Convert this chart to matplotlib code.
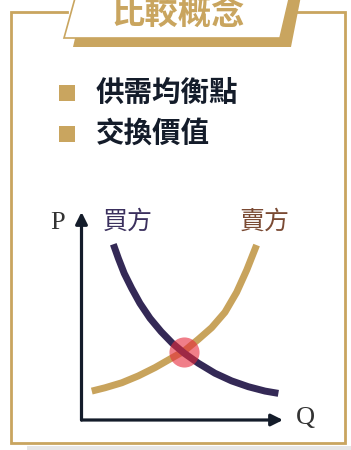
import matplotlib.pyplot as plt
from matplotlib.patches import Polygon, Rectangle

plt.rcParams['font.family'] = ['Noto Sans CJK TC', 'DejaVu Sans']

GOLD = '#c9a55f'
NAVY = '#141c2a'

title = '比較概念'
bullets = ['供需均衡點', '交換價值']
buyer_label = '買方'
seller_label = '賣方'

# demand (buyer) and supply (seller) curves, Q and P on a 0-10 scale
demand_q = [1.58, 1.83, 2.12, 2.49, 2.90, 3.40, 3.95, 4.51, 5.10, 5.80,
            6.62, 7.45, 8.28, 9.11, 9.77]
demand_p = [8.45, 7.77, 7.05, 6.33, 5.61, 4.89, 4.25, 3.69, 3.21, 2.73,
            2.25, 1.88, 1.60, 1.39, 1.28]
supply_q = [0.51, 1.17, 2.00, 2.82, 3.65, 4.39, 5.10, 5.80, 6.46, 7.12,
            7.70, 8.20, 8.69]
supply_p = [1.39, 1.55, 1.79, 2.12, 2.52, 2.93, 3.32, 3.88, 4.44, 5.18,
            6.14, 7.21, 8.41]
eq_q, eq_p = 5.10, 3.27

fig = plt.figure(figsize=(3.51, 4.5), dpi=100)

# background layer in pixel units for the card frame and heading
bg = fig.add_axes([0, 0, 1, 1])
bg.set_xlim(0, 351)
bg.set_ylim(450, 0)
bg.axis('off')

bg.add_patch(Rectangle((27, 446), 324, 4, color='#e6e6e6', lw=0))
bg.plot([67, 11, 11, 345, 345, 295], [12, 12, 443, 443, 12, 12],
        color=GOLD, lw=2, solid_joinstyle='miter')

# heading banner with offset shadow
bg.add_patch(Polygon([(86, -9), (73, 47), (291, 47), (302, -9)],
                     closed=True, color=GOLD, lw=0))
bg.add_patch(Polygon([(77, -9), (64, 38), (280, 38), (291, -9)],
                     closed=True, facecolor='white', edgecolor=GOLD, lw=1.2))
bg.text(178, 15, title, color=GOLD, fontsize=24, fontweight='bold',
        ha='center', va='center')

for i, item in enumerate(bullets):
    y = 93 + i * 41
    bg.add_patch(Rectangle((59, y - 8), 16, 16, color=GOLD, lw=0))
    bg.text(96, y, item, color=NAVY, fontsize=20.5, fontweight='bold',
            ha='left', va='center')

# supply / demand chart
ax = fig.add_axes([81.5 / 351, 30 / 450, 201.5 / 351, 208 / 450])
ax.set_xlim(0, 10)
ax.set_ylim(0, 10)
ax.axis('off')

arrow = dict(arrowstyle='-|>,head_length=0.7,head_width=0.35',
             color=NAVY, lw=2.3, shrinkA=0, shrinkB=0)
ax.annotate('', xy=(1, 0), xytext=(0, 0), xycoords='axes fraction',
            arrowprops=arrow)
ax.annotate('', xy=(0, 1), xytext=(0, 0), xycoords='axes fraction',
            arrowprops=arrow)

ax.plot(supply_q, supply_p, color='#c8a35c', lw=5, solid_capstyle='butt',
        solid_joinstyle='round')
ax.plot(demand_q, demand_p, color='#342956', lw=5, solid_capstyle='butt',
        solid_joinstyle='round')
ax.scatter([eq_q], [eq_p], s=470, color='#e6283a', alpha=0.6, lw=0, zorder=5)

bg.text(58, 223, 'P', family='Liberation Serif', fontsize=19, color='#333333',
        ha='center', va='center')
bg.text(305, 418, 'Q', family='Liberation Serif', fontsize=19, color='#333333',
        ha='center', va='center')
bg.text(128, 222, buyer_label, color='#3b305e', fontsize=18,
        fontweight='medium', ha='center', va='center')
bg.text(265, 222, seller_label, color='#7a4a33', fontsize=18,
        fontweight='medium', ha='center', va='center')

fig.savefig('out.png', dpi=100)
